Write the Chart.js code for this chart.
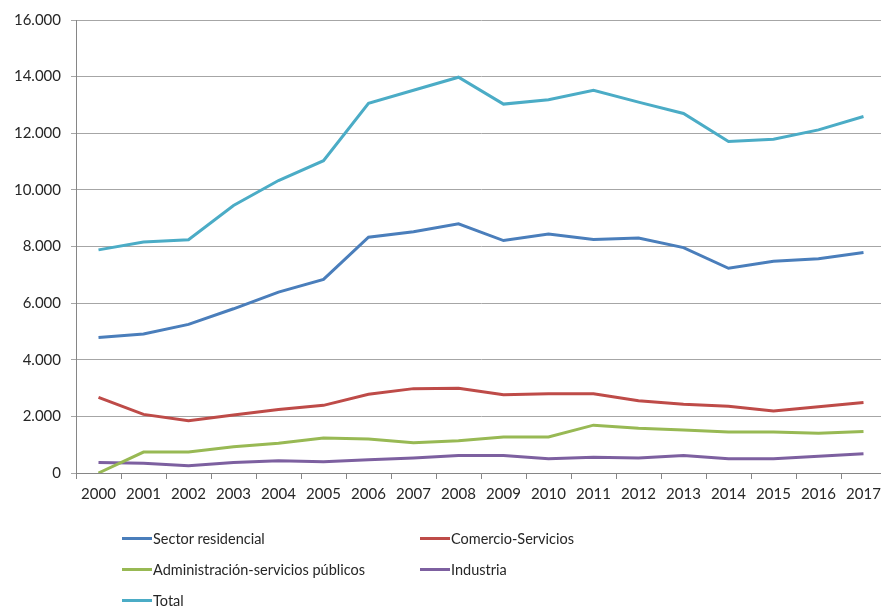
<!DOCTYPE html>
<html>
<head>
<meta charset="utf-8">
<script src="https://cdn.jsdelivr.net/npm/chart.js@4"></script>
<style>
  html, body { margin: 0; padding: 0; overflow: hidden; background: #fff; }
  #wrap { position: relative; width: 887px; height: 610px; }
  #legend { position: absolute; left: 122px; top: 523px; display: grid;
            grid-template-columns: 298px 298px; grid-auto-rows: 31px;
            font-family: Lato, sans-serif; font-size: 14.5px; color: #262626; }
  .item { display: flex; align-items: center; }
  .swatch { width: 30px; height: 3px; margin-right: 1px; }
</style>
</head>
<body>
<div id="wrap">
  <canvas id="chart" width="887" height="610"></canvas>
  <div id="legend"></div>
</div>
<script>
// años
var years = ['2000', '2001', '2002', '2003', '2004', '2005', '2006', '2007', '2008',
             '2009', '2010', '2011', '2012', '2013', '2014', '2015', '2016', '2017'];

var residencial = [4790, 4910, 5250, 5800, 6390, 6840, 8330, 8520, 8800,
                   8210, 8440, 8250, 8300, 7960, 7230, 7480, 7570, 7790];
var comercio = [2670, 2070, 1850, 2050, 2240, 2390, 2780, 2980, 2990,
                2760, 2800, 2800, 2550, 2430, 2360, 2190, 2340, 2490];
var administracion = [0, 740, 740, 930, 1050, 1240, 1200, 1070, 1140,
                      1270, 1270, 1690, 1580, 1520, 1450, 1450, 1400, 1470];
var industria = [370, 340, 260, 370, 430, 400, 470, 530, 620,
                 620, 500, 560, 530, 620, 500, 500, 590, 680];
var total = [7880, 8160, 8240, 9450, 10330, 11030, 13060, 13520, 13980,
             13030, 13180, 13520, 13100, 12700, 11710, 11790, 12120, 12590];

var seriesNames = ['Sector residencial', 'Comercio-Servicios', 'Administración-servicios públicos', 'Industria', 'Total'];
var seriesColors = ['#4A7EBB', '#BE4B48', '#98B954', '#7D60A0', '#4BACC6'];
var seriesData = [residencial, comercio, administracion, industria, total];

function formatMiles(v) {
    return String(v).replace(/\B(?=(\d{3})+(?!\d))/g, '.');
}

var datasets = seriesNames.map(function (name, i) {
    return {
        label: name,
        data: seriesData[i],
        borderColor: seriesColors[i],
        backgroundColor: seriesColors[i],
        borderWidth: 3,
        pointRadius: 0,
        tension: 0,
        fill: false
    };
});

var ctx = document.getElementById('chart').getContext('2d');
var chart = new Chart(ctx, {
    type: 'line',
    data: { labels: years, datasets: datasets },
    options: {
        responsive: false,
        animation: false,
        layout: { padding: { top: 20, left: 0, right: 1, bottom: 92 } },
        plugins: { legend: { display: false }, tooltip: { enabled: false } },
        scales: {
            x: {
                offset: true,
                grid: { display: true, drawOnChartArea: false, offset: true, tickLength: 6, color: '#868686' },
                border: { color: '#868686', width: 1 },
                ticks: { color: '#262626', font: { family: 'Lato', size: 15 }, padding: 6, maxRotation: 0, autoSkip: false },
                afterFit: function (scale) { scale.height = 45; }
            },
            y: {
                min: 0,
                max: 16000,
                grid: { color: '#a6a6a6', tickLength: 5 },
                border: { color: '#868686', width: 1 },
                ticks: {
                    stepSize: 2000,
                    color: '#262626',
                    font: { family: 'Lato', size: 15 },
                    padding: 10,
                    callback: function (v) { return formatMiles(v); }
                },
                afterFit: function (scale) { scale.width = 76; }
            }
        }
    }
});

// leyenda en dos columnas, como en la hoja original
var legend = document.getElementById('legend');
chart.data.datasets.forEach(function (ds) {
    var item = document.createElement('div');
    item.className = 'item';
    var sw = document.createElement('span');
    sw.className = 'swatch';
    sw.style.background = ds.borderColor;
    var txt = document.createElement('span');
    txt.textContent = ds.label;
    item.appendChild(sw);
    item.appendChild(txt);
    legend.appendChild(item);
});
</script>
</body>
</html>
